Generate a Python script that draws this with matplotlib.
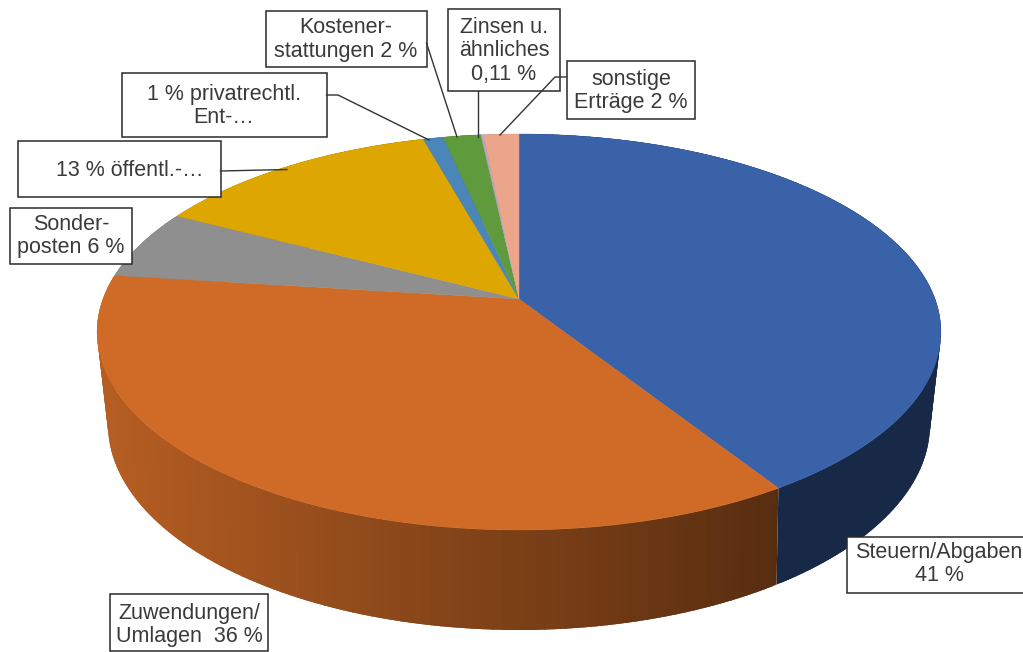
import numpy as np
import matplotlib
matplotlib.use("Agg")
import matplotlib.pyplot as plt
from matplotlib.patches import Rectangle

# Anteile in %, im Uhrzeigersinn ab 12 Uhr
categories = ["Steuern/Abgaben", "Zuwendungen/Umlagen", "Sonderposten", "oeffentl.", "privatrechtl.",
              "Kostenerstattungen", "Zinsen", "sonstige"]
values = [41.0, 36.0, 5.7, 13.0, 0.9, 1.7, 0.11, 1.59]
colors = ["#3A62A9", "#D06B27", "#8F8F8F", "#DEA600", "#4A86B8", "#5F9A3C", "#B9A6C9", "#EBA58A"]

label_texts = [
    "Steuern/Abgaben\n41 %",
    "Zuwendungen/\nUmlagen  36 %",
    "Sonder-\nposten 6 %",
    "13 % öffentl.-…",
    "1 % privatrechtl.\nEnt-…",
    "Kostener-\nstattungen 2 %",
    "Zinsen u.\nähnliches\n0,11 %",
    "sonstige\nErträge 2 %",
]

plt.rcParams["font.family"] = ["Liberation Sans", "DejaVu Sans"]

# Beschriftungsboxen: links, oben, rechts, unten (Pixel) + Textmitte
boxes = [
    (847, 537, 1030, 593, 939, 564),
    (110, 594, 268, 651, 189, 625),
    (10, 207.5, 132, 264, 71, 236),
    (18, 141, 220.5, 197, 130, 170),
    (122, 73, 326.5, 137, 224, 106),
    (266, 10.5, 426.5, 66.5, 346, 39.5),
    (448, 9, 560, 91, 504, 51),
    (566.5, 61, 695, 119, 631, 91),
]
leaders = [
    ([220.5, 287], [171, 169.5]),
    ([326.5, 338, 429], [95, 95, 140]),
    ([426.5, 457], [43, 137]),
    ([478, 478], [91, 137]),
    ([566.5, 555, 500], [77, 77, 135]),
]

# Perspektive: Deckel und Boden als projizierte Kreise
CX = 519
STEP = np.radians(1.2)


def project(theta, y0, s, r, k):
    u = np.sin(theta)
    v = np.cos(theta)
    w = 1 + k * v
    return CX + r * u / w, y0 - s * v / w


def top(theta):
    return project(theta, 299, 192.5, 416, 1 / 6)


def bottom(theta):
    return project(theta, 385.5, 198, 403.5, 0.19)


def shade(color, x):
    # Seitenwand wird nach rechts dunkler
    f = np.clip(0.87 - (x - 110) / (776 - 110) * 0.45, 0.42, 0.87)
    rgb = np.array(matplotlib.colors.to_rgb(color))
    return tuple(rgb * f)


fig = plt.figure(figsize=(10.23, 6.52), dpi=100)
ax = fig.add_axes([0, 0, 1, 1])
ax.set_xlim(0, 1023)
ax.set_ylim(652, 0)
ax.axis("off")

edges = np.cumsum([0] + values) / sum(values) * 2 * np.pi

# Seitenwand, von hinten nach vorne; Streifen ueberlappen damit keine Fugen bleiben
quads = []
for i in range(len(values)):
    n = max(1, int((edges[i + 1] - edges[i]) / STEP))
    th = np.linspace(edges[i], edges[i + 1], n + 1)
    for a, b in zip(th[:-1], th[1:]):
        quads.append((np.cos((a + b) / 2), a, b, colors[i], edges[i], edges[i + 1]))
quads.sort(key=lambda q: -q[0])
for _, a, b, col, lo, hi in quads:
    mid = (a + b) / 2
    a2 = max(lo, a - STEP * 0.6)
    b2 = min(hi, b + STEP * 0.6)
    th = np.linspace(a2, b2, 6)
    xt, yt = top(th)
    xb, yb = bottom(th[::-1])
    c = shade(col, top(mid)[0])
    ax.fill(np.r_[xt, xb], np.r_[yt, yb], facecolor=c, edgecolor="none", zorder=1)

# Deckel
for i in range(len(values)):
    th = np.linspace(edges[i], edges[i + 1], 200)
    x, y = top(th)
    ax.fill(np.r_[CX, x], np.r_[299, y], facecolor=colors[i], edgecolor=colors[i], lw=0.3, zorder=2)

# Boxen und Texte
for (l, t, r, b, tx, ty), txt in zip(boxes, label_texts):
    ax.add_patch(Rectangle((l, t), r - l, b - t, facecolor="white", edgecolor="#2A2A2A", lw=1.1, zorder=3))
    ax.text(tx, ty, txt, ha="center", va="center", fontsize=15.5, color="#3A3A3A", linespacing=1.17, zorder=4)

for lx, ly in leaders:
    ax.plot(lx, ly, color="#333333", lw=1.0, zorder=5)

fig.savefig("out.png", dpi=100, facecolor="white")
